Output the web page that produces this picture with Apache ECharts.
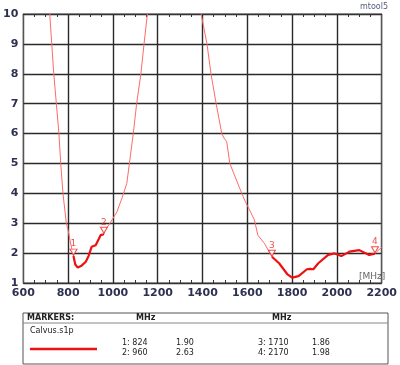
<!DOCTYPE html>
<html>
<head>
<meta charset="utf-8">
<script src="https://cdn.jsdelivr.net/npm/echarts@6/dist/echarts.min.js"></script>
<style>
html, body { margin: 0; padding: 0; background: #fff; }
#chart { width: 400px; height: 365px; }
</style>
</head>
<body>
<div id="chart"></div>
<script>
// VSWR trace (MHz, VSWR); null breaks the trace where it leaves the top
var freqs = [712, 718, 736, 759, 767, 777, 792, 800, 812, 824, 832, 843, 860, 879, 891, 905, 923, 938, 945, 960, 964, 982, 1000, 1018, 1040, 1062, 1074, 1091, 1106, 1125, 1139, 1154, 1160,
             1300,
             1390, 1394, 1420, 1438, 1444, 1461, 1486, 1496, 1508, 1522, 1566, 1593, 1603, 1632, 1647, 1676, 1710, 1742, 1778, 1800, 1829, 1866, 1880, 1895, 1917, 1961, 1990, 2020, 2056, 2100, 2144, 2170, 2178, 2200];
var vswr = [10.3, 10, 8, 6, 5, 4, 3, 2.77, 2.3, 1.90, 1.62, 1.52, 1.58, 1.71, 1.90, 2.21, 2.26, 2.49, 2.60, 2.63, 2.77, 2.94, 3.16, 3.38, 3.83, 4.33, 5.02, 6, 7, 8, 9, 10, 10.4,
            null,
            10.2, 10, 9, 8, 7.73, 7, 6, 5.85, 5.73, 5, 4.17, 3.69, 3.55, 3.11, 2.6, 2.33, 1.88, 1.66, 1.30, 1.18, 1.23, 1.46, 1.47, 1.46, 1.66, 1.94, 1.99, 1.90, 2.05, 2.10, 1.94, 1.98, 2.05, 2.19];

// bands drawn with the heavy trace
var bands = [[824, 960], [1710, 2170]];

var markerIds = ['1', '2', '3', '4'];
var markerFreqs = [824, 960, 1710, 2170];
var markerVals = [1.90, 2.63, 1.86, 1.98];

var xTicks = [600, 800, 1000, 1200, 1400, 1600, 1800, 2000, 2200];
var yTicks = [1, 2, 3, 4, 5, 6, 7, 8, 9, 10];

var full = freqs.map(function (f, i) { return [f, vswr[i]]; });
var heavy = full.map(function (p) {
    var inBand = p[1] !== null && bands.some(function (b) { return p[0] >= b[0] && p[0] <= b[1]; });
    return inBand ? p : [p[0], null];
});

var chart = echarts.init(document.getElementById('chart'));
var labelFont = { color: '#2d3050', fontFamily: 'DejaVu Sans', fontSize: 11, fontWeight: 'bold' };
var gridLine = { lineStyle: { color: '#2a2a2a', width: 1.4 } };

var tableX = 23, tableY = 313, tableW = 365, tableH = 51;

var option = {
    animation: false,
    backgroundColor: '#fff',
    grid: { left: 23, top: 14, width: 365, height: 269, show: true, borderColor: '#555', borderWidth: 1 },
    xAxis: [{
        type: 'value', min: 600, max: 2200, interval: 200, splitNumber: 4,
        axisLine: { lineStyle: { color: '#333' } },
        axisTick: { show: false },
        minorTick: { show: true, splitNumber: 4, length: -3, lineStyle: { color: '#333' } },
        axisLabel: Object.assign({ margin: 5, formatter: function (v) { return xTicks.indexOf(v) >= 0 ? v : ''; } }, labelFont),
        splitLine: gridLine
    }, {
        type: 'value', position: 'top', min: 600, max: 2200, interval: 200,
        axisLine: { lineStyle: { color: '#333' } },
        axisTick: { show: false },
        minorTick: { show: true, splitNumber: 4, length: -3, lineStyle: { color: '#333' } },
        axisLabel: { show: false },
        splitLine: { show: false }
    }],
    yAxis: [{
        type: 'value', min: 1, max: 10, interval: 1,
        axisLine: { show: true, lineStyle: { color: '#555' } },
        axisTick: { show: true, inside: true, length: 2, lineStyle: { color: '#333' } },
        axisLabel: Object.assign({ margin: 5, formatter: function (v) { return yTicks.indexOf(v) >= 0 ? v : ''; } }, labelFont),
        splitLine: gridLine
    }, {
        type: 'value', min: 1, max: 10, interval: 1, position: 'right',
        axisLine: { show: true, lineStyle: { color: '#555' } },
        axisTick: { show: true, inside: true, length: 2, lineStyle: { color: '#333' } },
        axisLabel: { show: false },
        splitLine: { show: false }
    }],
    series: [{
        type: 'line', data: full, showSymbol: false, clip: true, connectNulls: false,
        lineStyle: { color: '#ff6a6a', width: 1 }, z: 3
    }, {
        type: 'line', data: heavy, showSymbol: false, clip: true, connectNulls: false,
        lineStyle: { color: '#ee1111', width: 2.2 }, z: 4
    }, {
        type: 'scatter',
        data: markerFreqs.map(function (f, i) { return { value: [f, markerVals[i]], name: markerIds[i] }; }),
        symbol: 'triangle', symbolRotate: 180, symbolSize: [7, 6], symbolOffset: [0, -4],
        itemStyle: { color: '#fff', borderColor: '#ee2222', borderWidth: 1 },
        label: {
            show: true, position: 'top', distance: 0, formatter: '{b}',
            color: '#ee2222', fontFamily: 'DejaVu Sans', fontSize: 9
        },
        z: 5
    }],
    graphic: [
        { type: 'text', right: 12, top: 3, style: { text: 'mtool5', fill: '#55607a', font: '8px DejaVu Sans' } },
        { type: 'text', left: 359, top: 272, style: { text: '[MHz]', fill: '#666', font: '9px DejaVu Sans' } },
        { type: 'rect', shape: { x: tableX, y: tableY, width: tableW, height: tableH }, style: { fill: '#fff', stroke: '#555', lineWidth: 1 } },
        { type: 'line', shape: { x1: tableX, y1: 323, x2: tableX + tableW, y2: 323 }, style: { stroke: '#888', lineWidth: 1 } },
        { type: 'text', left: 27, top: 314, style: { text: 'MARKERS:', fill: '#222', font: 'bold 8px DejaVu Sans' } },
        { type: 'text', left: 136, top: 314, style: { text: 'MHz', fill: '#222', font: 'bold 8px DejaVu Sans' } },
        { type: 'text', left: 272, top: 314, style: { text: 'MHz', fill: '#222', font: 'bold 8px DejaVu Sans' } },
        { type: 'text', left: 30, top: 327, style: { text: 'Calvus.s1p', fill: '#222', font: '8px DejaVu Sans' } },
        { type: 'line', shape: { x1: 30, y1: 349, x2: 97, y2: 349 }, style: { stroke: '#ee1111', lineWidth: 2.5 } },
        { type: 'text', left: 122, top: 339, style: { text: markerIds[0] + ': ' + markerFreqs[0], fill: '#222', font: '8px DejaVu Sans' } },
        { type: 'text', left: 176, top: 339, style: { text: markerVals[0].toFixed(2), fill: '#222', font: '8px DejaVu Sans' } },
        { type: 'text', left: 122, top: 349, style: { text: markerIds[1] + ': ' + markerFreqs[1], fill: '#222', font: '8px DejaVu Sans' } },
        { type: 'text', left: 176, top: 349, style: { text: markerVals[1].toFixed(2), fill: '#222', font: '8px DejaVu Sans' } },
        { type: 'text', left: 258, top: 339, style: { text: markerIds[2] + ': ' + markerFreqs[2], fill: '#222', font: '8px DejaVu Sans' } },
        { type: 'text', left: 312, top: 339, style: { text: markerVals[2].toFixed(2), fill: '#222', font: '8px DejaVu Sans' } },
        { type: 'text', left: 258, top: 349, style: { text: markerIds[3] + ': ' + markerFreqs[3], fill: '#222', font: '8px DejaVu Sans' } },
        { type: 'text', left: 312, top: 349, style: { text: markerVals[3].toFixed(2), fill: '#222', font: '8px DejaVu Sans' } }
    ]
};
chart.setOption(option);
</script>
</body>
</html>
